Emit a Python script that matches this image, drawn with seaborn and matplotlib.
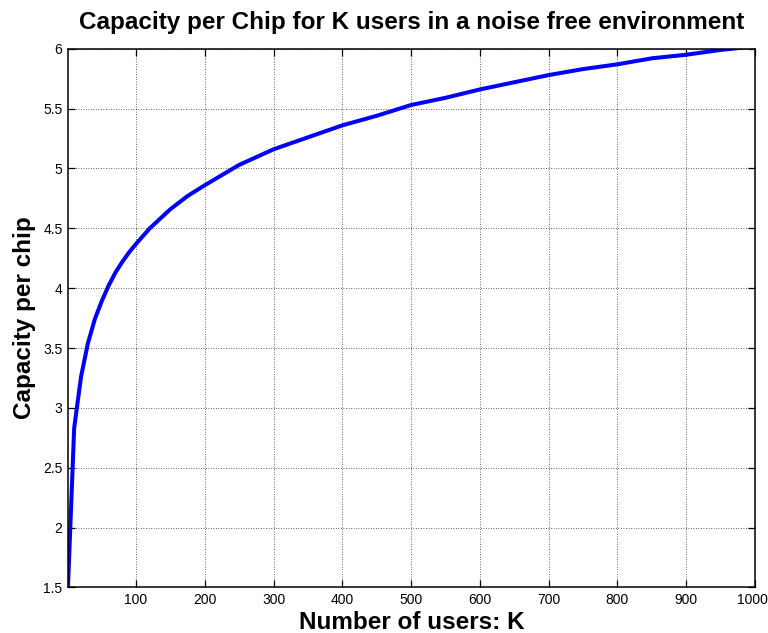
import matplotlib
matplotlib.use("Agg")
import matplotlib.pyplot as plt
import matplotlib.transforms as mtransforms
import seaborn as sns
import pandas as pd

# Capacity per chip versus number of users (noise-free case)
users_k = [1, 10, 20, 30, 40, 50, 60, 70, 80, 90, 100, 120, 150, 175, 200,
           250, 300, 350, 400, 450, 500, 550, 600, 650, 700, 750, 800,
           850, 900, 950, 1000]
capacity = [1.50, 2.83, 3.26, 3.54, 3.74, 3.89, 4.02, 4.13, 4.22, 4.30, 4.37,
            4.50, 4.66, 4.77, 4.86, 5.03, 5.16, 5.26, 5.36, 5.44, 5.53, 5.59,
            5.66, 5.72, 5.78, 5.83, 5.87, 5.92, 5.95, 5.99, 6.02]

x_ticks = [100, 200, 300, 400, 500, 600, 700, 800, 900, 1000]
y_ticks = [1.5, 2, 2.5, 3, 3.5, 4, 4.5, 5, 5.5, 6]
y_tick_labels = ["1.5", "2", "2.5", "3", "3.5", "4", "4.5", "5", "5.5", "6"]

df = pd.DataFrame({"K": users_k, "C": capacity})

sns.set_style("ticks")
plt.rcParams["font.family"] = ["Liberation Sans", "DejaVu Sans"]
plt.rcParams["text.color"] = "black"
plt.rcParams["axes.labelcolor"] = "black"

fig = plt.figure(figsize=(7.68, 6.33), dpi=100)
ax = fig.add_axes([0.0885, 0.072, 0.8945, 0.851])

sns.lineplot(data=df, x="K", y="C", ax=ax, color="#0000ff", linewidth=2.9)

ax.set_xlim(1, 1000)
ax.set_ylim(1.5, 6)
ax.set_xticks(x_ticks)
ax.set_yticks(y_ticks)
ax.set_yticklabels(y_tick_labels)

ax.grid(True, color="black", linestyle=(0, (1, 2)), linewidth=0.6, alpha=0.8)
ax.tick_params(direction="in", length=5, width=0.9, top=True, right=True,
               labelsize=10, colors="black", pad=4)
for sp in ax.spines.values():
    sp.set_visible(True)
    sp.set_linewidth(1.1)
    sp.set_color("black")

# keep the last x tick label inside the figure
last = ax.get_xticklabels()[-1]
last.set_transform(last.get_transform() +
                   mtransforms.ScaledTranslation(-3 / 100, 0, fig.dpi_scale_trans))

ax.set_xlabel("Number of users: K", fontsize=17.5, fontweight="bold",
              labelpad=3, color="black")
ax.set_ylabel("Capacity per chip", fontsize=17.5, fontweight="bold",
              labelpad=5, color="black")
ax.set_title("Capacity per Chip for K users in a noise free environment",
             fontsize=17.5, fontweight="bold", pad=14, color="black")

fig.savefig("out.png", dpi=100)
